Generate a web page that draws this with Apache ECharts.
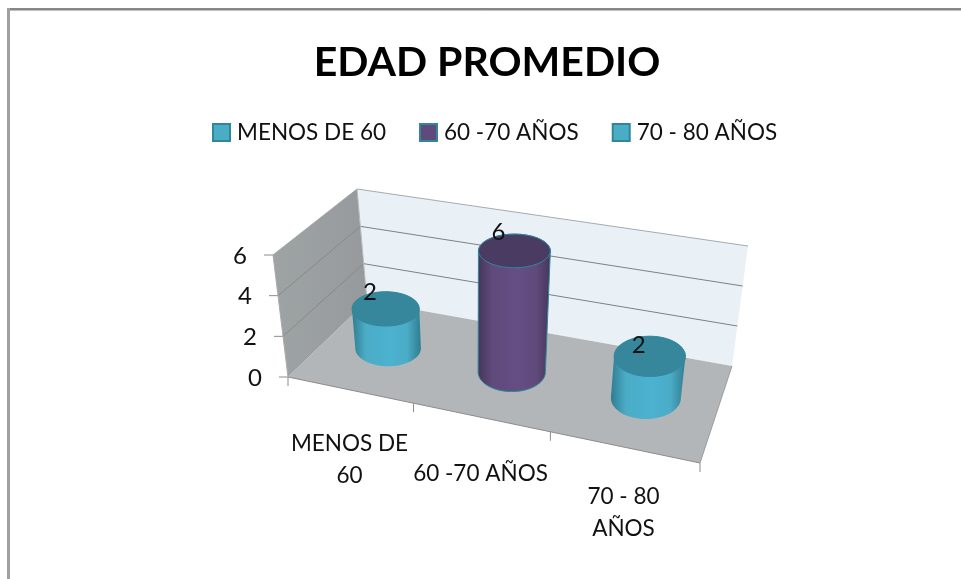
<!DOCTYPE html>
<html>
<head>
<meta charset="utf-8">
<style>html,body{margin:0;padding:0;background:#fff}#chart{width:961px;height:579px}</style>
<script src="https://cdn.jsdelivr.net/npm/echarts@6/dist/echarts.min.js"></script>
</head>
<body>
<div id="chart"></div>
<script>
const categories = ["MENOS DE 60", "60 -70 AÑOS", "70 - 80 AÑOS"];
const axisLabels = ["MENOS DE\n60", "60 -70 AÑOS", "70 - 80\nAÑOS"];
const values = [2, 6, 2];
const yTicks = [0, 2, 4, 6];

// hidden grid: its pixels get mapped onto the tilted box below
const GRID = { left: 100, top: 255, width: 300, height: 122 };
// box corners, order: front-left, front-right, back-right, back-left
const FLOOR = [[288, 377], [700, 463], [732, 366], [367, 301]];
const CEIL = [[273, 255], [716, 329], [748, 246], [357, 189]];
const FONT = "Lato";
const TEXT = "#111";

const palette = [
  { fill: "#4bacc6", top: "#36869c", edge: "#2f7d90", stroke: "#31859c", mid: "#4bb2d0" },
  { fill: "#604a7b", top: "#4a3b62", edge: "#44365a", stroke: "#31859c", mid: "#644e83" },
  { fill: "#4bacc6", top: "#36869c", edge: "#2f7d90", stroke: "#31859c", mid: "#4bb2d0" }
];
const valueOffset = [[-16, -16], [-16, -18], [-11, -10]];
const labelOffset = [[0, 70], [0, 57], [0, 66]];

function homography(q) {
  const [[x0, y0], [x1, y1], [x2, y2], [x3, y3]] = q;
  const dx1 = x1 - x2, dx2 = x3 - x2, sx = x0 - x1 + x2 - x3;
  const dy1 = y1 - y2, dy2 = y3 - y2, sy = y0 - y1 + y2 - y3;
  const den = dx1 * dy2 - dx2 * dy1;
  const g = (sx * dy2 - dx2 * sy) / den;
  const h = (dx1 * sy - sx * dy1) / den;
  const a = x1 - x0 + g * x1, b = x3 - x0 + h * x3;
  const d = y1 - y0 + g * y1, e = y3 - y0 + h * y3;
  return (u, v) => {
    const t = g * u + h * v + 1;
    return [(a * u + b * v + x0) / t, (d * u + e * v + y0) / t];
  };
}

// u along categories, v into depth, w up the value axis (all 0..1)
function project(u, v, w) {
  const q = FLOOR.map((p, i) => [p[0] + (CEIL[i][0] - p[0]) * w, p[1] + (CEIL[i][1] - p[1]) * w]);
  return homography(q)(u, v);
}
const toU = (px) => (px - GRID.left) / GRID.width;
const toW = (py) => (GRID.top + GRID.height - py) / GRID.height;

function poly(points, style) {
  return { type: "polygon", shape: { points }, style };
}
function seg(a, b, stroke, lineWidth) {
  return { type: "line", shape: { x1: a[0], y1: a[1], x2: b[0], y2: b[1] }, style: { stroke, lineWidth: lineWidth || 1 } };
}
function txt(x, y, text, size, align) {
  return {
    type: "text",
    style: { x, y, text, fill: TEXT, font: size + "px " + FONT, align: align || "center", verticalAlign: "middle", lineHeight: 32 }
  };
}

function renderBox(params, api) {
  const children = [];
  const corner = project;
  children.push(poly([corner(0, 0, 0), corner(0, 1, 0), corner(0, 1, 1), corner(0, 0, 1)], {
    fill: new echarts.graphic.LinearGradient(0, 0, 1, 0, [{ offset: 0, color: "#9ea3a4" }, { offset: 1, color: "#969a9c" }])
  }));
  children.push(poly([corner(0, 1, 0), corner(1, 1, 0), corner(1, 1, 1), corner(0, 1, 1)], { fill: "#e9f0f6" }));
  children.push(poly([corner(0, 0, 0), corner(1, 0, 0), corner(1, 1, 0), corner(0, 1, 0)], { fill: "#b2b6b9" }));

  yTicks.forEach((t) => {
    const w = toW(api.coord([0, t])[1]);
    const a = corner(0, 0, w), b = corner(0, 1, w), c = corner(1, 1, w);
    children.push(seg([a[0] - 9, a[1]], a, "#8c8c8c"));
    if (t > 0) {
      const top = t === yTicks[yTicks.length - 1];
      children.push(seg(a, b, top ? "#a3a7a8" : "#868a8b"));
      children.push(seg(b, c, top ? "#a8abad" : "#7f8284"));
    }
    children.push(txt(a[0] - 33, a[1] + 1, String(t), 24));
  });
  children.push(seg(corner(0, 0, 0), corner(0, 0, 1), "#a9abac"));
  children.push(seg(corner(0, 1, 0), corner(0, 1, 1), "#b4b8ba"));
  children.push(seg(corner(0, 0, 0), corner(1, 0, 0), "#8c8c8c"));
  children.push(seg(corner(1, 0, 0), corner(1, 1, 0), "#9c9c9c"));

  for (let i = 0; i <= categories.length; i++) {
    const p = corner(i / categories.length, 0, 0);
    children.push(seg(p, [p[0], p[1] + 9], "#8c8c8c"));
  }
  categories.forEach((c, i) => {
    const p = corner((i + 0.5) / categories.length, 0, 0);
    children.push(txt(p[0] + labelOffset[i][0], p[1] + labelOffset[i][1], axisLabels[i], 22.5));
  });
  return { type: "group", children };
}

// a floor circle put through the projection, then levelled to its bounding ellipse
function ring(u, w) {
  const xs = [], ys = [];
  for (let k = 0; k < 72; k++) {
    const t = (k / 72) * Math.PI * 2;
    const p = project(u + 0.0807 * Math.cos(t), 0.5 + 0.218 * Math.sin(t), w);
    xs.push(p[0]);
    ys.push(p[1]);
  }
  const x0 = Math.min(...xs), x1 = Math.max(...xs), y0 = Math.min(...ys), y1 = Math.max(...ys);
  return { cx: (x0 + x1) / 2, cy: (y0 + y1) / 2, rx: (x1 - x0) / 2, ry: (y1 - y0) / 2 };
}

function arcPoints(e, from, to) {
  const pts = [];
  for (let k = 0; k <= 36; k++) {
    const t = from + ((to - from) * k) / 36;
    pts.push([e.cx + e.rx * Math.cos(t), e.cy + e.ry * Math.sin(t)]);
  }
  return pts;
}

function renderCylinder(params, api) {
  const i = api.value(0);
  const col = palette[i];
  const base = api.coord([i, 0]);
  const head = api.coord([i, api.value(1)]);
  const u = toU(base[0]);
  const w = toW(head[1]);
  const low = ring(u, 0);
  const high = ring(u, w);
  // lower half of the foot, then back along the far side of the top
  const body = arcPoints(low, 0, Math.PI).concat(arcPoints(high, Math.PI, Math.PI * 2));
  const centre = project(u, 0.5, w);
  const gradient = new echarts.graphic.LinearGradient(0, 0, 1, 0, [
    { offset: 0, color: col.edge },
    { offset: 0.2, color: col.fill },
    { offset: 0.55, color: col.mid },
    { offset: 0.8, color: col.fill },
    { offset: 1, color: col.edge }
  ]);
  return {
    type: "group",
    children: [
      poly(body, { fill: gradient, stroke: i === 1 ? col.stroke : null, lineWidth: 1 }),
      poly(arcPoints(high, 0, Math.PI * 2), { fill: col.top, stroke: i === 1 ? col.stroke : col.top, lineWidth: 1 }),
      txt(centre[0] + valueOffset[i][0], centre[1] + valueOffset[i][1], String(api.value(1)), 24)
    ]
  };
}

const chart = echarts.init(document.getElementById("chart"));
chart.setOption({
  animation: false,
  backgroundColor: "#fff",
  title: {
    text: "EDAD PROMEDIO",
    left: 482, top: 58, textAlign: "center", textVerticalAlign: "middle",
    textStyle: { fontFamily: FONT, fontWeight: "bold", fontSize: 41, color: "#000" }
  },
  legend: {
    left: 207, top: 116, icon: "rect", itemWidth: 17, itemHeight: 17, itemGap: 33,
    textStyle: { fontFamily: FONT, fontSize: 22.5, color: TEXT, padding: [0, 0, 0, 2] },
    data: categories.map((name, i) => ({
      name,
      itemStyle: { color: palette[i].fill, borderColor: palette[i].stroke, borderWidth: 2 }
    }))
  },
  grid: GRID,
  xAxis: { type: "category", data: categories, show: false },
  yAxis: { type: "value", min: 0, max: 6, interval: 2, show: false },
  graphic: [
    { type: "line", shape: { x1: 7, y1: 9, x2: 961, y2: 9 }, style: { stroke: "#868686", lineWidth: 2 } },
    { type: "line", shape: { x1: 10, y1: 10.5, x2: 961, y2: 10.5 }, style: { stroke: "#c0c0c0", lineWidth: 1 } },
    { type: "line", shape: { x1: 8.5, y1: 8, x2: 8.5, y2: 579 }, style: { stroke: "#a0a0a0", lineWidth: 3 } }
  ],
  series: [
    { type: "custom", name: "box", silent: true, z: 1, clip: false, renderItem: renderBox, data: [[0, 0]] }
  ].concat(categories.map((name, i) => ({
    type: "custom",
    name,
    z: 2 + i,
    clip: false,
    itemStyle: { color: palette[i].fill },
    renderItem: renderCylinder,
    data: [[i, values[i]]]
  })))
});
</script>
</body>
</html>
